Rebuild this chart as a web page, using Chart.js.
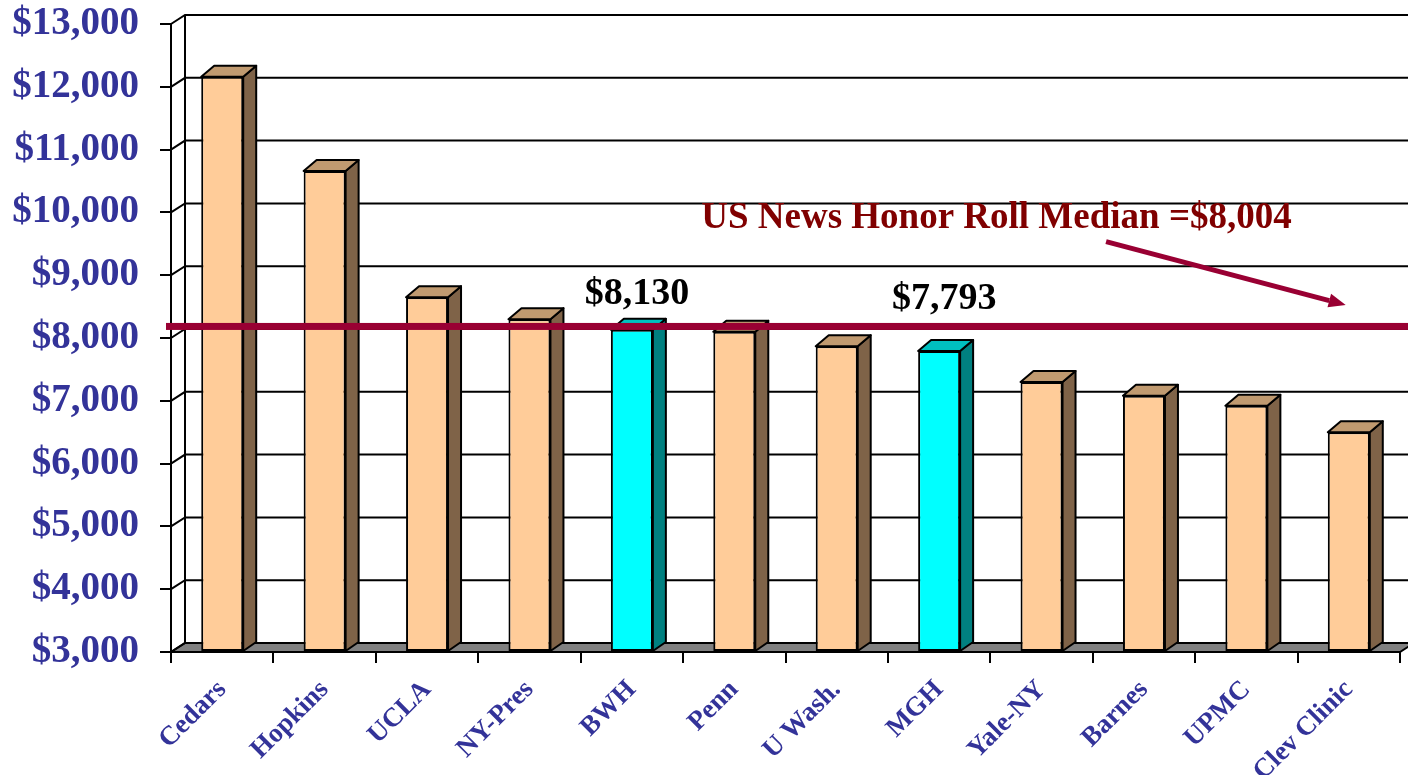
<!DOCTYPE html>
<html>
<head>
    <title>Hospital Cost Comparison</title>
    <script src="https://cdn.jsdelivr.net/npm/chart.js"></script>
    <style>
        html, body { margin: 0; padding: 0; background: #fff; }
        .chart-container { width: 1408px; height: 775px; }
    </style>
</head>
<body>
    <div class="chart-container">
        <canvas id="chartjs"></canvas>
    </div>

    <script>
        // data
        const hospitals = ['Cedars', 'Hopkins', 'UCLA', 'NY-Pres', 'BWH', 'Penn', 'U Wash.', 'MGH', 'Yale-NY', 'Barnes', 'UPMC', 'Clev Clinic'];
        const costs = [12160, 10660, 8650, 8300, 8130, 8100, 7870, 7793, 7300, 7080, 6920, 6500];
        const highlighted = ['BWH', 'MGH'];
        const yTicks = { min: 3000, max: 13000, step: 1000 };
        const medianLabel = 'US News Honor Roll Median =$8,004';
        const medianLineValue = 8184;   // where the line is drawn in the picture
        const valueLabels = [
            { text: '$8,130', index: 4.05, value: 8540 },
            { text: '$7,793', index: 7.05, value: 8460 }
        ];

        const fmt = v => '$' + v.toLocaleString('en-US');

        const DX = 14, DY = 9;       // depth of the back wall
        const BDX = 13, BDY = 11;    // depth of a bar

        const serif = '"Liberation Serif", "Times New Roman", serif';

        const frontColor = hospitals.map(h => highlighted.includes(h) ? '#00FFFF' : '#FFCC99');
        const sideColor = hospitals.map(h => highlighted.includes(h) ? '#008080' : '#7F6348');
        const topColor = hospitals.map(h => highlighted.includes(h) ? '#00C0C0' : '#C09A70');

        const wallPlugin = {
            id: 'wall3d',
            beforeDatasetsDraw(chart) {
                const { ctx, chartArea, scales } = chart;
                const y = scales.y;
                const l = chartArea.left, r = chartArea.right;
                ctx.save();
                // floor
                const yb = y.getPixelForValue(yTicks.min);
                ctx.beginPath();
                ctx.moveTo(l, yb);
                ctx.lineTo(r, yb);
                ctx.lineTo(r + DX, yb - DY);
                ctx.lineTo(l + DX, yb - DY);
                ctx.closePath();
                ctx.fillStyle = '#808080';
                ctx.fill();
                ctx.strokeStyle = '#000';
                ctx.lineWidth = 2;
                ctx.stroke();
                // grid on back wall and side wall
                y.ticks.forEach(t => {
                    const py = y.getPixelForValue(t.value);
                    ctx.beginPath();
                    ctx.moveTo(l, py);
                    ctx.lineTo(l + DX, py - DY);
                    ctx.lineTo(r + DX, py - DY);
                    ctx.stroke();
                });
                // back wall left edge
                ctx.beginPath();
                ctx.moveTo(l + DX, y.getPixelForValue(yTicks.max) - DY);
                ctx.lineTo(l + DX, yb - DY);
                ctx.stroke();
                ctx.restore();
            },
            afterDatasetsDraw(chart) {
                const { ctx, scales } = chart;
                const meta = chart.getDatasetMeta(0);
                const floor = scales.y.getPixelForValue(yTicks.min);
                ctx.save();
                ctx.strokeStyle = '#000';
                ctx.lineWidth = 2;
                ctx.lineJoin = 'round';
                meta.data.forEach((bar, i) => {
                    const x1 = bar.x - bar.width / 2, x2 = bar.x + bar.width / 2;
                    const top = bar.y, bottom = Math.min(bar.base, floor);
                    // side face
                    ctx.beginPath();
                    ctx.moveTo(x2, top);
                    ctx.lineTo(x2 + BDX, top - BDY);
                    ctx.lineTo(x2 + BDX, bottom - DY);
                    ctx.lineTo(x2, bottom);
                    ctx.closePath();
                    ctx.fillStyle = sideColor[i];
                    ctx.fill();
                    ctx.stroke();
                    // top face
                    ctx.beginPath();
                    ctx.moveTo(x1, top);
                    ctx.lineTo(x1 + BDX, top - BDY);
                    ctx.lineTo(x2 + BDX, top - BDY);
                    ctx.lineTo(x2, top);
                    ctx.closePath();
                    ctx.fillStyle = topColor[i];
                    ctx.fill();
                    ctx.stroke();
                });
                ctx.restore();
            },
            afterDraw(chart) {
                const { ctx, chartArea, scales } = chart;
                const x = scales.x, y = scales.y;
                ctx.save();
                // median line
                const my = y.getPixelForValue(medianLineValue);
                ctx.fillStyle = '#990033';
                ctx.fillRect(chartArea.left - 5, my - 3.5, chart.width, 7);

                // value labels
                ctx.fillStyle = '#000';
                ctx.font = 'bold 38px ' + serif;
                ctx.textAlign = 'center';
                ctx.textBaseline = 'alphabetic';
                valueLabels.forEach(v => {
                    ctx.fillText(v.text, x.getPixelForValue(v.index), y.getPixelForValue(v.value));
                });

                // median caption
                ctx.fillStyle = '#800000';
                ctx.font = 'bold 37px ' + serif;
                ctx.fillText(medianLabel, x.getPixelForValue(7.56), y.getPixelForValue(9757));

                // arrow
                const ax1 = x.getPixelForValue(8.63), ay1 = y.getPixelForValue(9534);
                const ax2 = x.getPixelForValue(10.97), ay2 = y.getPixelForValue(8527);
                const ang = Math.atan2(ay2 - ay1, ax2 - ax1);
                const head = 17, half = 7;
                const bx = ax2 - head * Math.cos(ang), by = ay2 - head * Math.sin(ang);
                ctx.strokeStyle = '#990033';
                ctx.lineWidth = 5;
                ctx.beginPath();
                ctx.moveTo(ax1, ay1);
                ctx.lineTo(bx, by);
                ctx.stroke();
                ctx.fillStyle = '#990033';
                ctx.beginPath();
                ctx.moveTo(ax2, ay2);
                ctx.lineTo(bx + half * Math.sin(ang), by - half * Math.cos(ang));
                ctx.lineTo(bx - half * Math.sin(ang), by + half * Math.cos(ang));
                ctx.closePath();
                ctx.fill();
                ctx.restore();
            }
        };

        const ctx = document.getElementById('chartjs').getContext('2d');

        new Chart(ctx, {
            type: 'bar',
            data: {
                labels: hospitals,
                datasets: [{
                    label: 'Cost',
                    data: costs,
                    base: yTicks.min,
                    backgroundColor: frontColor,
                    borderColor: '#000',
                    borderWidth: 2,
                    borderSkipped: false,
                    categoryPercentage: 1,
                    barPercentage: 0.41
                }]
            },
            plugins: [wallPlugin],
            options: {
                responsive: true,
                maintainAspectRatio: false,
                animation: false,
                layout: {
                    padding: { top: 24, right: 8, left: 0, bottom: 0 }
                },
                plugins: {
                    legend: { display: false },
                    tooltip: { enabled: false }
                },
                scales: {
                    x: {
                        grid: {
                            display: true,
                            drawOnChartArea: false,
                            drawTicks: true,
                            tickLength: 11,
                            color: '#000',
                            lineWidth: 2,
                            offset: true
                        },
                        border: { display: true, color: '#000', width: 2 },
                        ticks: {
                            autoSkip: false,
                            maxRotation: 45,
                            minRotation: 45,
                            padding: 11,
                            color: '#333399',
                            font: { family: serif, size: 27, weight: 'bold' }
                        },
                        afterFit: scale => {
                            scale.height = 123;
                            scale.paddingLeft = 0;
                            scale.paddingRight = 0;
                        }
                    },
                    y: {
                        min: yTicks.min,
                        max: yTicks.max,
                        grid: {
                            display: true,
                            drawOnChartArea: false,
                            drawTicks: true,
                            tickLength: 11,
                            color: '#000',
                            lineWidth: 2
                        },
                        border: { display: true, color: '#000', width: 2 },
                        ticks: {
                            stepSize: yTicks.step,
                            padding: 21,
                            color: '#333399',
                            font: { family: serif, size: 39, weight: 'bold' },
                            callback: value => fmt(value)
                        },
                        afterFit: scale => {
                            scale.width = 171;
                            scale.paddingTop = 0;
                            scale.paddingBottom = 0;
                        }
                    }
                }
            }
        });
    </script>
</body>
</html>
